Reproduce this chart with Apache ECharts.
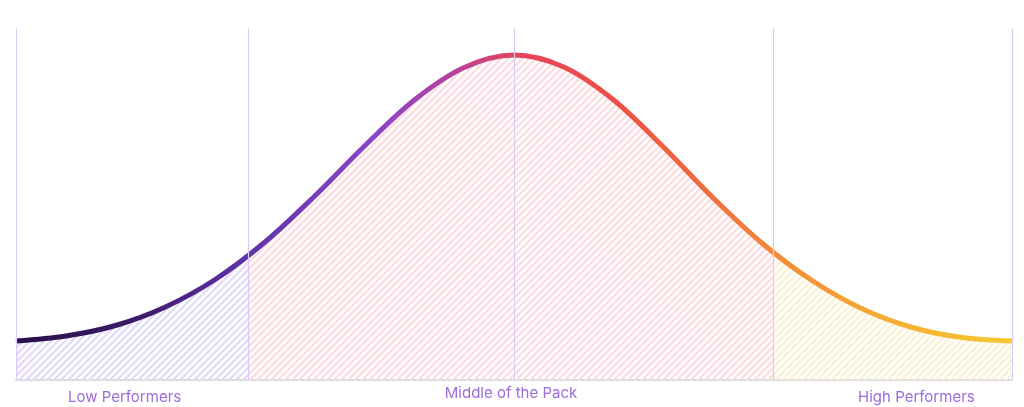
<!DOCTYPE html>
<html>
<head>
<meta charset="utf-8">
<script src="https://cdn.jsdelivr.net/npm/echarts@6/dist/echarts.min.js"></script>
<style>
  html, body { margin: 0; padding: 0; background: #ffffff; }
  #chart { width: 1024px; height: 407px; }
</style>
</head>
<body>
<div id="chart"></div>
<script>
// Curve: x in 0..100 across the plot, y in 0..100 of plot height
const curveX = [0, 5, 10, 15, 20, 25, 30, 35, 40, 45, 50, 55, 60, 65, 70, 75, 80, 85, 90, 95, 100];
const curveY = [11.08, 12.5, 15.48, 20.74, 28.55, 39.2, 52.27, 66.48, 79.55, 88.78, 92.33, 88.92, 79.55, 66.19, 51.7, 38.64, 28.13, 20.17, 14.91, 12.07, 11.08];

// Vertical divider positions
const dividers = [0, 23.3, 50, 76, 100];
// Shaded regions (start, end) and their hatch colours
const regionStarts = [0, 23.3, 76];
const regionEnds = [23.3, 76, 100];
const regionHatch = ['#e4dbf8', '#fbdde2', '#fbf3d6'];

// Bottom labels
const labelNames = ['Low Performers', 'Middle of the Pack', 'High Performers'];
const labelPos = [10.9, 49.7, 90.4];

const lineData = curveX.map((x, i) => [x, curveY[i]]);

const chart = echarts.init(document.getElementById('chart'), null, { renderer: 'canvas' });

function buildOption(areaFill) {
  return {
    animation: false,
    backgroundColor: '#ffffff',
    grid: { left: 16, right: 12, top: 28, bottom: 27 },
    xAxis: {
      type: 'value',
      min: 0,
      max: 100,
      axisLine: { show: true, lineStyle: { color: '#dcdcdc', width: 2 } },
      axisTick: { show: false },
      splitLine: { show: false },
      axisLabel: {
        customValues: labelPos,
        margin: 6,
        formatter: function (v) {
          const i = labelPos.indexOf(v);
          if (i < 0) return '';
          return i === 1 ? '{m|' + labelNames[i] + '}' : '{e|' + labelNames[i] + '}';
        },
        rich: {
          m: { fontFamily: 'Inter', fontSize: 15, color: '#9c6cda', padding: [0, 0, 0, 0] },
          e: { fontFamily: 'Inter', fontSize: 15, color: '#9c6cda', padding: [4, 0, 0, 0] }
        }
      }
    },
    yAxis: {
      type: 'value',
      min: 0,
      max: 100,
      show: false,
      splitLine: { show: false }
    },
    series: [
      {
        type: 'line',
        data: lineData,
        z: 1,
        silent: true,
        showSymbol: false,
        lineStyle: { opacity: 0 },
        markLine: {
          silent: true,
          symbol: ['none', 'none'],
          label: { show: false },
          lineStyle: { color: '#d9cdf7', width: 1.2, type: 'solid' },
          data: dividers.map(d => ({ xAxis: d }))
        }
      },
      {
        type: 'line',
        data: lineData,
        z: 2,
        smooth: 0.34,
        showSymbol: false,
        silent: true,
        lineStyle: {
          width: 5,
          color: new echarts.graphic.LinearGradient(0, 0, 1, 0, [
            { offset: 0, color: '#2a0f4a' },
            { offset: 0.12, color: '#3b1a68' },
            { offset: 0.23, color: '#5e33a7' },
            { offset: 0.36, color: '#8a45c9' },
            { offset: 0.44, color: '#b7439d' },
            { offset: 0.5, color: '#e5445d' },
            { offset: 0.6, color: '#ec5049' },
            { offset: 0.7, color: '#ef6f3d' },
            { offset: 0.76, color: '#f28a37' },
            { offset: 0.86, color: '#f5a932' },
            { offset: 1, color: '#f7ca30' }
          ])
        },
        areaStyle: areaFill ? { color: areaFill, opacity: 1 } : { opacity: 0 }
      }
    ]
  };
}

chart.setOption(buildOption(null));

// Build a hatch pattern whose colour regions follow the axis scale
const W = chart.getWidth();
const H = chart.getHeight();
const cv = document.createElement('canvas');
cv.width = W;
cv.height = H;
const ctx = cv.getContext('2d');
for (let r = 0; r < regionStarts.length; r++) {
  const x0 = chart.convertToPixel({ gridIndex: 0 }, [regionStarts[r], 0])[0];
  const x1 = chart.convertToPixel({ gridIndex: 0 }, [regionEnds[r], 0])[0];
  ctx.save();
  ctx.beginPath();
  ctx.rect(x0, 0, x1 - x0, H);
  ctx.clip();
  ctx.strokeStyle = regionHatch[r];
  ctx.lineWidth = 2.4;
  for (let k = -H; k < W + H; k += 7) {
    ctx.beginPath();
    ctx.moveTo(k, H);
    ctx.lineTo(k + H, 0);
    ctx.stroke();
  }
  ctx.restore();
}

chart.setOption(buildOption({ image: cv, repeat: 'no-repeat' }));
</script>
</body>
</html>
